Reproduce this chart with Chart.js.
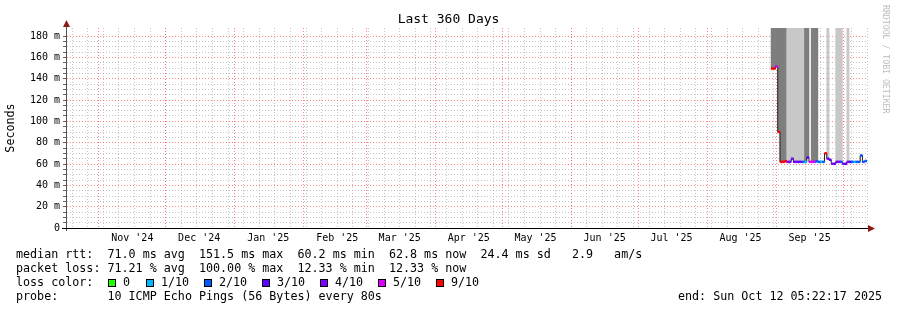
<!DOCTYPE html>
<html>
<head>
<meta charset="utf-8">
<title>Last 360 Days</title>
<script src="https://cdn.jsdelivr.net/npm/chart.js@4.4.0/dist/chart.umd.min.js"></script>
<style>
  html, body { margin: 0; padding: 0; background: #fff; }
  #wrap { position: relative; width: 897px; height: 310px; overflow: hidden;
          font-family: 'DejaVu Sans Mono', monospace; color: #000; }
  #chart { position: absolute; left: 0; top: 0; }
  .title { position: absolute; left: 0; top: 11px; width: 897px; text-align: center;
           font-size: 13px; line-height: 16px; }
  .legend { position: absolute; left: 16px; top: 247px; font-size: 11.7px; line-height: 14px; white-space: pre; }
  .swatch { position: absolute; top: 279px; width: 6px; height: 6px; border: 1px solid #000; }
  .swlabel { position: absolute; top: 275px; font-size: 11.7px; line-height: 14px; white-space: pre; }
  .end { position: absolute; left: 678px; top: 289px; font-size: 11.7px; line-height: 14px; white-space: pre; }
  .mark { position: absolute; left: 881px; top: 5px; writing-mode: vertical-rl; font-size: 8.2px;
          line-height: 10px; color: #bdbdbd; white-space: pre; }
</style>
</head>
<body>
<div id="wrap">
  <canvas id="chart" width="897" height="310"></canvas>
  <div class="title">Last 360 Days</div>
  <div class="mark">RRDTOOL / TOBI OETIKER</div>
  <div class="legend">median rtt:  71.0 ms avg  151.5 ms max  60.2 ms min  62.8 ms now  24.4 ms sd   2.9   am/s
packet loss: 71.21 % avg  100.00 % max  12.33 % min  12.33 % now
loss color:
probe:       10 ICMP Echo Pings (56 Bytes) every 80s</div>
  <div class="end">end: Sun Oct 12 05:22:17 2025</div>
</div>
<script>
// ---- data (x = days since start of the 360 day window) ----
const days = [317, 318, 319, 320, 321, 322, 323, 324, 325, 326, 327, 328, 329, 330, 331,
              332, 333, 334, 335, 336, 337, 338, 339, 340, 341, 342, 343, 344, 345, 346,
              347, 348, 349, 350, 351, 352, 353, 354, 355, 356, 357, 358, 359];
const medianMs = [149.5, 149.5, 151.5, 90, 62, 62, 62.5, 62, 62, 65, 62, 62, 62, 62, 62,
                  62, 66, 62, 62, 62, 62.5, 62, 62, 62, 70, 65, 64, 60.2, 60.2, 62,
                  62, 62, 60.2, 60.2, 62, 62, 62, 62, 62, 62, 68, 62, 62.8];
const lossTenths = [9, 9, 5, 9, 9, 9, 9, 4, 4, 4, 3, 4, 3, 4, 2,
                    1, 3, 5, 5, 5, 2, 2, 1, 2, 9, 4, 3, 4, 3, 4,
                    4, 2, 4, 3, 4, 3, 2, 1, 2, 2, 2, 2, 2];
// 2 = dense smoke, 1 = sparse smoke, 0 = none
const smokeDensity = [2, 2, 2, 2, 2, 2, 2, 1, 1, 1, 1, 1, 1, 1, 1,
                      2, 2, 0, 2, 2, 2, 0, 0, 0, 0, 1, 0, 0, 0, 1,
                      1, 1, 0, 0, 1, 0, 0, 0, 0, 0, 0, 0, 0];

const monthStartDays = [14.78, 44.78, 75.78, 106.78, 134.78, 165.78, 195.78, 226.78,
                        256.78, 287.78, 318.78, 348.78];
const monthLabelDays = [29.78, 59.78, 90.78, 121.78, 149.78, 180.78, 210.78, 241.78,
                        271.78, 302.78, 333.78];
const monthLabels = ["Nov '24", "Dec '24", "Jan '25", "Feb '25", "Mar '25", "Apr '25",
                     "May '25", "Jun '25", "Jul '25", "Aug '25", "Sep '25"];
const firstWeekDay = 2.78;
const spanDays = 360;
const yTopMs = 187.5;

const lossSteps  = [0, 1, 2, 3, 4, 5, 9];
const lossLabels = ['0', '1/10', '2/10', '3/10', '4/10', '5/10', '9/10'];
const lossColors = ['#26ff00', '#00b8ff', '#0059ff', '#5e00ff', '#7e00ff', '#dd00ff', '#ff0000'];

// ---- colours ----
const MAJOR = 'rgba(255, 80, 80, 0.7)';
const MINOR = 'rgba(160, 160, 160, 0.6)';
const NONE  = 'rgba(0, 0, 0, 0)';
const SMOKE = { 1: '#c8c8c8', 2: '#7e7e7e' };
const FONT  = 'DejaVu Sans Mono';

function lossColor(l) {
  let c = lossColors[0];
  lossSteps.forEach((s, i) => { if (l >= s) c = lossColors[i]; });
  return c;
}

// ---- loss colour legend ----
const wrap = document.getElementById('wrap');
const boxX = [108, 146, 204, 262, 320, 378, 436];
lossLabels.forEach((lab, i) => {
  const sw = document.createElement('div');
  sw.className = 'swatch';
  sw.style.left = boxX[i] + 'px';
  sw.style.background = lossColors[i];
  wrap.appendChild(sw);
  const t = document.createElement('div');
  t.className = 'swlabel';
  t.style.left = (boxX[i] + 15) + 'px';
  t.textContent = lab;
  wrap.appendChild(t);
});

// ---- x grid: weeks, month starts, mid-month labels ----
const weekDays = [];
for (let d = firstWeekDay; d < spanDays; d += 7) weekDays.push(d);

const smokePoints = days
  .map((d, i) => ({ x: d, y: [medianMs[i], yTopMs], density: smokeDensity[i] }))
  .filter(p => p.density > 0);
const medianPoints = days.map((d, i) => ({ x: d, y: medianMs[i] }));
const lossPoints = days.map((d, i) => ({ x: d, y: medianMs[i], loss: lossTenths[i] }));

// arrows at the ends of both axes
const axisArrows = {
  id: 'axisArrows',
  afterDraw(chart) {
    const { ctx, chartArea: a } = chart;
    const x0 = Math.round(a.left) + 0.5;
    const y0 = Math.round(a.bottom) + 0.5;
    ctx.save();
    ctx.lineWidth = 1;
    ctx.strokeStyle = '#555';
    ctx.beginPath();
    ctx.moveTo(x0, a.top - 4);
    ctx.lineTo(x0, a.bottom + 3);
    ctx.stroke();
    ctx.strokeStyle = '#000';
    ctx.beginPath();
    ctx.moveTo(a.left - 4, y0);
    ctx.lineTo(a.right + 2, y0);
    ctx.stroke();
    ctx.fillStyle = '#8b1a1a';
    ctx.beginPath();
    ctx.moveTo(x0, a.top - 8);
    ctx.lineTo(x0 - 3.5, a.top - 1);
    ctx.lineTo(x0 + 3.5, a.top - 1);
    ctx.closePath();
    ctx.fill();
    ctx.beginPath();
    ctx.moveTo(a.right + 7, y0);
    ctx.lineTo(a.right, y0 - 3.5);
    ctx.lineTo(a.right, y0 + 3.5);
    ctx.closePath();
    ctx.fill();
    ctx.restore();
  }
};

new Chart(document.getElementById('chart'), {
  type: 'bar',
  data: {
    datasets: [
      {
        label: 'smoke',
        data: smokePoints,
        backgroundColor: c => SMOKE[c.raw.density],
        borderWidth: 0,
        barThickness: 2.25,
        grouped: false,
        order: 3,
      },
      {
        label: 'median',
        type: 'line',
        data: medianPoints,
        borderColor: '#202020',
        borderWidth: 1,
        stepped: 'middle',
        pointRadius: 0,
        order: 2,
      },
      {
        label: 'loss',
        type: 'line',
        data: lossPoints,
        showLine: false,
        pointStyle: 'line',
        pointRadius: 1.25,
        pointBorderWidth: 2.5,
        pointBorderColor: c => lossColor(c.raw.loss),
        order: 1,
      },
    ],
  },
  options: {
    responsive: false,
    animation: false,
    events: [],
    layout: { padding: { left: 0, right: 29, top: 28, bottom: 62 } },
    plugins: { legend: { display: false }, tooltip: { enabled: false }, title: { display: false } },
    scales: {
      x: {
        type: 'linear',
        min: 0,
        max: spanDays,
        offset: false,
        z: 1,
        afterFit: s => { s.height = 20; },
        afterBuildTicks: s => {
          const t = [];
          weekDays.forEach(v => t.push({ value: v, kind: 'week' }));
          monthStartDays.forEach(v => t.push({ value: v, kind: 'month' }));
          monthLabelDays.forEach((v, i) => t.push({ value: v, kind: 'label', text: monthLabels[i] }));
          t.sort((a, b) => a.value - b.value);
          s.ticks = t;
        },
        grid: {
          offset: false,
          drawTicks: false,
          lineWidth: 1,
          color: c => {
            const k = c.tick && c.tick.kind;
            return k === 'month' ? MAJOR : k === 'week' ? MINOR : NONE;
          },
        },
        border: { display: true, color: '#000', width: 1, dash: [1, 2] },
        ticks: {
          autoSkip: false,
          maxRotation: 0,
          minRotation: 0,
          padding: 4,
          color: '#000',
          font: { family: FONT, size: 10 },
          callback: (v, i, ticks) => ticks[i].kind === 'label' ? ticks[i].text : '',
        },
      },
      y: {
        min: 0,
        max: yTopMs,
        z: 1,
        afterFit: s => { s.width = 66; },
        afterBuildTicks: s => { s.ticks = s.ticks.filter(t => t.value % 5 === 0); },
        grid: {
          lineWidth: 1,
          tickLength: 3,
          tickColor: '#666',
          color: c => {
            const v = c.tick ? c.tick.value : 0;
            if (v === 0) return NONE;
            return v % 20 === 0 ? MAJOR : MINOR;
          },
        },
        border: { display: true, color: '#555', width: 1, dash: [1, 2] },
        ticks: {
          stepSize: 5,
          autoSkip: false,
          padding: 3,
          color: '#000',
          font: { family: FONT, size: 10 },
          callback: v => v === 0 ? '0' : (v % 20 === 0 ? v + ' m' : ''),
        },
        title: {
          display: true,
          text: 'Seconds',
          color: '#000',
          font: { family: FONT, size: 11.7 },
          padding: { top: 4, bottom: 4 },
        },
      },
    },
  },
  plugins: [axisArrows],
});
</script>
</body>
</html>
